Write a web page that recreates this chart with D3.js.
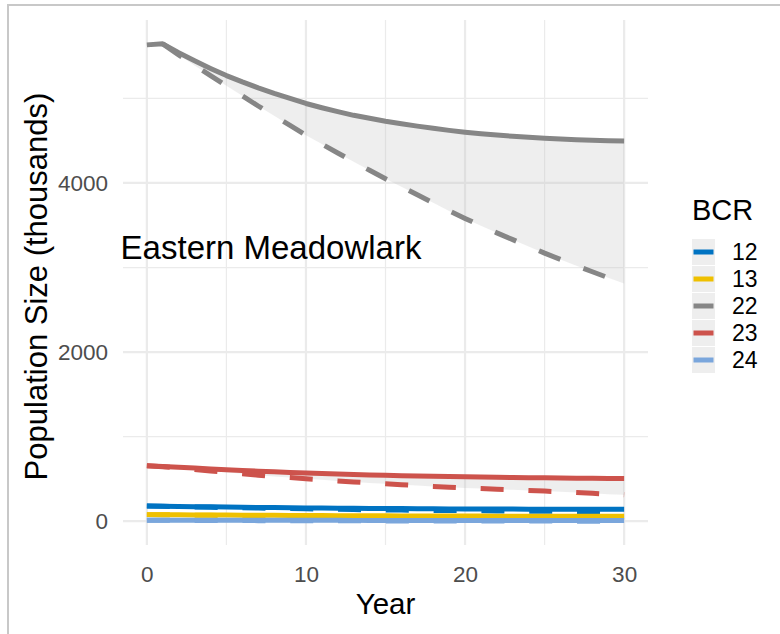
<!DOCTYPE html>
<html>
<head>
<meta charset="utf-8">
<script src="https://cdn.jsdelivr.net/npm/d3@7"></script>
<style>
  body { margin: 0; background: #fff; }
  svg { display: block; font-family: "Liberation Sans", Arial, sans-serif; }
</style>
</head>
<body>
<svg id="chart" width="780" height="634"></svg>
<script>
// data (population, thousands)
const years = [0,1,2,3,4,5,6,7,8,9,10,11,12,13,14,15,16,17,18,19,20,21,22,23,24,25,26,27,28,29,30];
const bcr = ['12', '13', '22', '23', '24'];
const colors = ['#0073C2', '#EFC000', '#868686', '#CD534C', '#7AA6DC'];

// solid line = upper, dashed line = lower
const hi12 = [180,178,175,172,170,167,165,163,161,159,157,155,154,152,151,150,149,148,147,146,145,145,144,144,143,143,142,142,142,141,141];
const lo12 = [180,177,173,169,165,162,158,155,152,149,146,143,141,138,136,134,132,130,128,126,125,123,122,120,119,118,117,116,115,114,113];
const hi13 = [78,77,76,75,74,73,72,71,70,69,68,67,66,65,65,64,63,63,62,62,61,61,60,60,60,59,59,59,58,58,58];
const lo13 = [78,76,74,72,70,68,66,64,63,61,60,58,57,56,55,54,53,52,51,50,49,49,48,47,47,46,46,45,45,44,44];
const hi22 = [5633,5645,5540,5445,5355,5270,5195,5125,5060,5000,4940,4890,4843,4800,4765,4730,4700,4672,4647,4622,4600,4582,4566,4552,4540,4530,4520,4512,4505,4500,4497];
const lo22 = [null,5645,5515,5390,5270,5150,5030,4910,4795,4680,4565,4460,4355,4250,4150,4050,3955,3860,3765,3670,3580,3495,3410,3330,3250,3170,3095,3020,2950,2880,2810];
const hi23 = [655,648,638,628,618,608,600,592,584,577,570,564,558,553,548,543,539,535,531,528,525,522,519,517,515,513,511,509,507,506,505];
const lo23 = [655,645,630,612,595,578,561,545,530,516,502,489,477,465,453,442,432,422,412,403,394,386,378,371,364,356,348,340,330,320,312];
const hi24 = [12,12,12,12,12,11,11,11,11,11,11,11,11,10,10,10,10,10,10,10,10,10,10,10,10,10,10,10,10,10,10];
const lo24 = [12,11,10,10,9,8,8,7,7,6,6,5,5,5,4,4,4,3,3,3,3,2,2,2,2,2,1,1,1,1,1];

const xMajor = [0, 10, 20, 30];
const xMinor = [5, 15, 25];
const yMajor = [0, 2000, 4000];
const yMinor = [1000, 3000, 5000];

const his = [hi12, hi13, hi22, hi23, hi24];
const los = [lo12, lo13, lo22, lo23, lo24];

const series = bcr.map((b, i) => ({
    bcr: b,
    color: colors[i],
    values: years.map((yr, j) => ({ year: yr, hi: his[i][j], lo: los[i][j] }))
}));

const svg = d3.select('#chart');
const panel = { left: 123, right: 648, top: 20, bottom: 545 };

// ggplot-like 5% expansion
const xExt = d3.extent(years);
const xPad = (xExt[1] - xExt[0]) * 0.05;
const allVals = his.concat(los).flat().filter(v => v != null);
const yExt = d3.extent(allVals);
const yPad = (yExt[1] - yExt[0]) * 0.05;

const x = d3.scaleLinear().domain([xExt[0] - xPad, xExt[1] + xPad]).range([panel.left, panel.right]);
const y = d3.scaleLinear().domain([yExt[0] - yPad, yExt[1] + yPad]).range([panel.bottom, panel.top]);

// outer frame (left / top)
svg.append('path')
    .attr('d', 'M8,634V5H780')
    .attr('fill', 'none')
    .attr('stroke', '#c8c8c8')
    .attr('stroke-width', 2);

// grid
const grid = svg.append('g');
grid.selectAll('.xminor').data(xMinor).enter().append('line')
    .attr('x1', d => x(d)).attr('x2', d => x(d))
    .attr('y1', panel.top).attr('y2', panel.bottom)
    .style('stroke', '#ebebeb').style('stroke-width', 1.2);
grid.selectAll('.yminor').data(yMinor).enter().append('line')
    .attr('y1', d => y(d)).attr('y2', d => y(d))
    .attr('x1', panel.left).attr('x2', panel.right)
    .style('stroke', '#ebebeb').style('stroke-width', 1.2);
grid.selectAll('.xmajor').data(xMajor).enter().append('line')
    .attr('x1', d => x(d)).attr('x2', d => x(d))
    .attr('y1', panel.top).attr('y2', panel.bottom)
    .style('stroke', '#ebebeb').style('stroke-width', 2.2);
grid.selectAll('.ymajor').data(yMajor).enter().append('line')
    .attr('y1', d => y(d)).attr('y2', d => y(d))
    .attr('x1', panel.left).attr('x2', panel.right)
    .style('stroke', '#ebebeb').style('stroke-width', 2.2);

// ribbons
const area = d3.area()
    .defined(d => d.lo != null)
    .x(d => x(d.year))
    .y0(d => y(d.lo))
    .y1(d => y(d.hi));

svg.append('g').selectAll('path')
    .data(series).enter().append('path')
    .attr('d', d => area(d.values))
    .style('fill', '#bdbdbd')
    .style('fill-opacity', 0.25);

const lineHi = d3.line().x(d => x(d.year)).y(d => y(d.hi));
const lineLo = d3.line().defined(d => d.lo != null).x(d => x(d.year)).y(d => y(d.lo));

// lines, per group: solid then dashed
const lines = svg.append('g');
series.forEach(s => {
    lines.append('path')
        .attr('d', lineHi(s.values))
        .style('fill', 'none')
        .style('stroke', s.color)
        .style('stroke-width', 5)
        .style('stroke-linejoin', 'round');
    lines.append('path')
        .attr('d', lineLo(s.values))
        .style('fill', 'none')
        .style('stroke', s.color)
        .style('stroke-width', 5)
        .style('stroke-dasharray', '23,24.8')
        .style('stroke-linejoin', 'round');
});

// annotation
svg.append('text')
    .attr('x', x(-1.65))
    .attr('y', y(3100))
    .style('font-size', '33px')
    .style('fill', '#000')
    .text('Eastern Meadowlark');

// axes labels
const axisX = d3.axisBottom(x).tickValues(xMajor).tickSize(0).tickPadding(0);
const gx = svg.append('g').attr('transform', `translate(0,${panel.bottom + 21})`).call(axisX);
gx.select('.domain').remove();
gx.selectAll('text').style('font-size', '22.5px').style('fill', '#4d4d4d')
    .style('font-family', '"Liberation Sans", Arial, sans-serif');

const axisY = d3.axisLeft(y).tickValues(yMajor).tickSize(0).tickPadding(0).tickFormat(d3.format('d'));
const gy = svg.append('g').attr('transform', `translate(${panel.left - 15},0)`).call(axisY);
gy.select('.domain').remove();
gy.selectAll('text').style('font-size', '22.5px').style('fill', '#4d4d4d')
    .style('font-family', '"Liberation Sans", Arial, sans-serif');

svg.append('text')
    .attr('x', (panel.left + panel.right) / 2)
    .attr('y', 614)
    .attr('text-anchor', 'middle')
    .style('font-size', '29.5px')
    .text('Year');

svg.append('text')
    .attr('transform', `translate(47,${(panel.top + panel.bottom) / 2 + 4}) rotate(-90)`)
    .attr('text-anchor', 'middle')
    .style('font-size', '31px')
    .text('Population Size (thousands)');

// legend
const legend = svg.append('g').attr('transform', 'translate(692,0)');
legend.append('text')
    .attr('x', 0).attr('y', 220)
    .style('font-size', '29px')
    .text('BCR');

const keys = legend.selectAll('.key')
    .data(series).enter().append('g')
    .attr('class', 'key')
    .attr('transform', (d, i) => `translate(0,${239 + i * 27})`);
keys.append('rect')
    .attr('width', 23).attr('height', 26)
    .style('fill', '#eeeeee');
keys.append('line')
    .attr('x1', 1.5).attr('x2', 21.5)
    .attr('y1', 13).attr('y2', 13)
    .style('stroke', d => d.color)
    .style('stroke-width', 5);
keys.append('text')
    .attr('x', 40).attr('y', 13)
    .attr('dy', '0.36em')
    .style('font-size', '23px')
    .text(d => d.bcr);
</script>
</body>
</html>
